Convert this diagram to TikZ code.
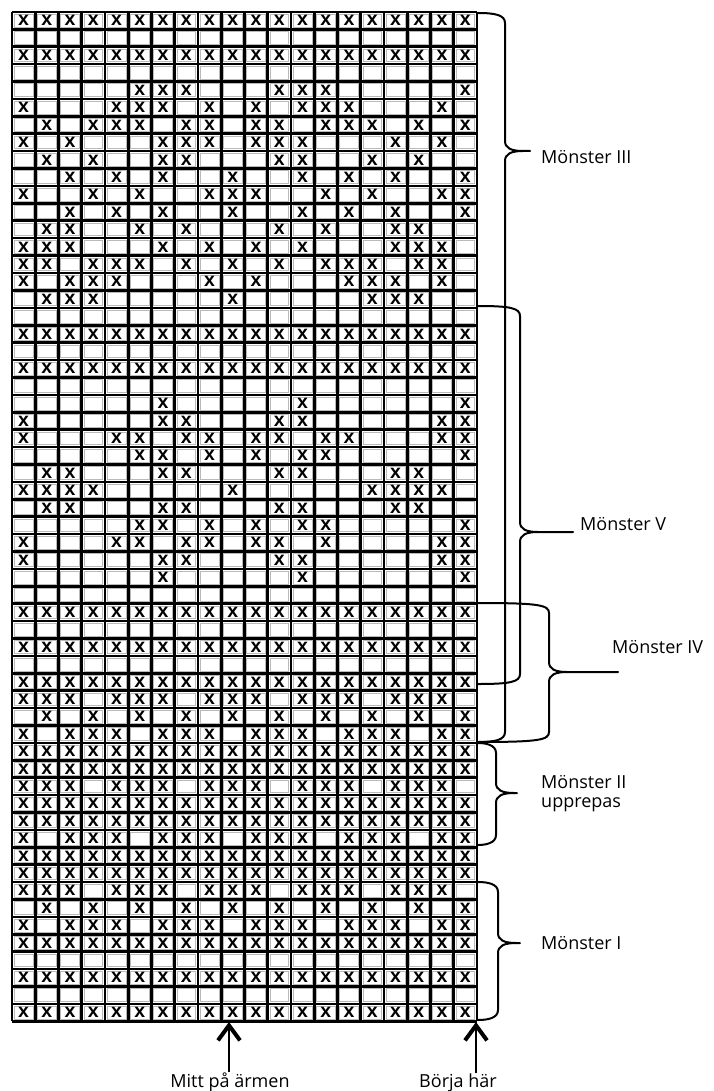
\documentclass[tikz,border=0pt]{standalone}
\usepackage{fontspec}
\setmainfont{Open Sans}
\newfontfamily\stitchfont{Liberation Sans}
\usetikzlibrary{arrows.meta, calc}

\tikzset{
  gridline/.style={line width=2.6pt},
  cellin/.style={gray!55, line width=0.8pt},
  stitch/.style={font=\stitchfont\bfseries\fontsize{19.5}{19.5}\selectfont, inner sep=0pt},
  bracepath/.style={line width=2pt, line cap=round},
  lbl/.style={font=\fontsize{18}{19}\selectfont, inner sep=0pt, align=left},
  uparrow/.style={line width=2pt, -{Straight Barb[length=15pt, width=22pt, line width=4pt]}},
}

% klammer: kant x, rygg x, spets x, topp y, spets y, botten y
\newcommand{\patternbrace}[6]{%
  \draw[bracepath] (#1,#4) .. controls ({#2-10},#4) and (#2,{#4+2}) .. (#2,{#4+10})
    -- (#2,{#5-10}) .. controls (#2,{#5-3}) and ({#2+6},#5) .. ({#2+18},#5) -- (#3,#5);
  \draw[bracepath] ({#2+18},#5) .. controls ({#2+6},#5) and (#2,{#5+3}) .. (#2,{#5+10})
    -- (#2,{#6-10}) .. controls (#2,{#6-2}) and ({#2-10},#6) .. (#1,#6);
}

\begin{document}
\begin{tikzpicture}[x=1pt, y=-1pt]
    \useasboundingbox (0,0) rectangle (713,1091);

    % Rutor (inre grå kant)
    \foreach \r in {1,...,58}
      \foreach \c in {1,...,20}
        \draw[cellin] ({12+(\c-1)*23.25+2.3},{12+(\r-1)*17.4+2.3}) rectangle ({12+\c*23.25-2.3},{12+\r*17.4-2.3});

    % Rutnät
    \foreach \c in {0,...,20}
      \draw[gridline] ({12+\c*23.25},12) -- ({12+\c*23.25},1021.2);
    \foreach \r in {0,...,58}
      \draw[gridline] (12,{12+\r*17.4}) -- (477,{12+\r*17.4});

    % Maskor (rad/kolumner)
    \foreach \r/\cols in {
        1/{1,...,20}, 3/{1,...,20},
        5/{6,7,8,12,13,14,20},
        6/{1,5,6,7,9,11,13,14,15,19},
        7/{2,4,5,6,8,9,11,12,14,15,16,18,20},
        8/{1,3,7,8,9,11,12,13,17,19},
        9/{2,4,7,8,12,13,16,18},
        10/{3,5,7,10,13,15,17,20},
        11/{1,4,6,9,10,11,14,16,19,20},
        12/{3,5,7,10,13,15,17,20},
        13/{2,3,6,8,12,14,17,18},
        14/{1,2,3,7,9,11,13,17,18,19},
        15/{1,2,4,5,6,8,10,12,14,15,16,18,19},
        16/{1,3,4,5,9,11,15,16,17,19},
        17/{2,3,4,10,16,17,18},
        19/{1,...,20}, 21/{1,...,20},
        23/{7,13,20},
        24/{1,7,8,12,13,19,20},
        25/{1,5,6,8,9,11,12,14,15,19,20},
        26/{6,7,9,11,13,14,20},
        27/{2,3,7,8,12,13,17,18},
        28/{1,2,3,4,10,16,17,18,19},
        29/{2,3,7,8,12,13,17,18},
        30/{6,7,9,11,13,14,20},
        31/{1,5,6,8,9,11,12,14,19,20},
        32/{1,7,8,12,13,19,20},
        33/{7,13,20},
        35/{1,...,20}, 37/{1,...,20}, 39/{1,...,20},
        40/{1,2,3,5,6,7,9,10,11,13,14,15,17,18,19},
        41/{2,4,...,20},
        42/{1,3,4,5,7,8,9,11,12,13,15,16,17,19,20},
        43/{1,...,20}, 44/{1,...,20},
        45/{1,2,3,5,6,7,9,10,11,13,14,15,17,18,19},
        46/{1,...,20}, 47/{1,...,20},
        48/{1,3,4,5,7,8,9,11,12,13,15,16,17,19,20},
        49/{1,...,20}, 50/{1,...,20},
        51/{1,2,3,5,6,7,9,10,11,13,14,15,17,18,19},
        52/{2,4,...,20},
        53/{1,3,4,5,7,8,9,11,12,13,15,16,17,19,20},
        54/{1,...,20}, 56/{1,...,20}, 58/{1,...,20}}
      \foreach \c in \cols
        \node[stitch] (x-\r-\c) at ({12+(\c-0.5)*23.25},{12+(\r-0.5)*17.4}) {x};

    % Klammer och mönsternamn
    \patternbrace{478}{505}{530}{13}{151}{742}
    \node[lbl, anchor=west] (m3) at (541,157) {Mönster III};

    \patternbrace{478}{520}{573}{306}{532}{684}
    \node[lbl, anchor=west] (m5) at (580,524) {Mönster V};

    \patternbrace{478}{549}{618}{603}{672}{742}
    \node[lbl, anchor=west] (m4) at (612,647) {Mönster IV};

    \patternbrace{478}{496}{517}{743}{793}{845}
    \node[lbl, anchor=west] (m2) at (541,794) {Mönster II\\upprepas};

    \patternbrace{478}{498}{520}{882}{943}{1020}
    \node[lbl, anchor=west] (m1) at (541,943) {Mönster I};

    % Pilar under rutnätet
    \node[lbl, anchor=base] (mitt) at (230,1087) {Mitt på ärmen};
    \coordinate (mittpt) at (229,1022);
    \draw[uparrow] (mittpt |- mitt.north) -- (mittpt);

    \node[lbl, anchor=base] (borja) at (458,1087) {Börja här};
    \coordinate (borjapt) at (476,1022);
    \draw[uparrow] (borjapt |- borja.north) -- (borjapt);
\end{tikzpicture}
\end{document}
